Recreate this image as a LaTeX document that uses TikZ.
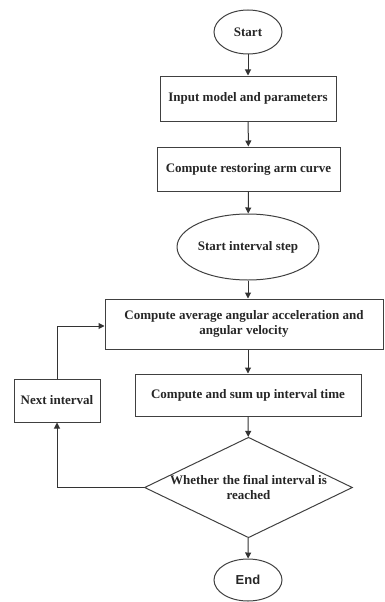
\documentclass[tikz,border=0pt]{standalone}
\usepackage{fontspec}
\setmainfont{Liberation Serif}
\newfontfamily\arialfont{Liberation Sans}
\usetikzlibrary{shapes.geometric,arrows.meta}
\begin{document}
\begin{tikzpicture}[x=1pt,y=-1pt,
  every node/.style={font=\bfseries\fontsize{13}{15.5}\selectfont, text=black!85, align=center, inner sep=0pt},
  boxnode/.style={draw=black!75, line width=1pt, rectangle},
  ovalnode/.style={draw=black!75, line width=1pt, ellipse},
  decnode/.style={draw=black!75, line width=1pt, diamond, aspect=2.07},
  flow/.style={draw=black!80, line width=1pt, -{Triangle[length=6pt,width=6pt]}}]
\useasboundingbox (0,0) rectangle (385,602);
\node[ovalnode, minimum width=68pt, minimum height=44pt] (start) at (248,32) {Start};
\node[boxnode, minimum width=176pt, minimum height=45pt] (input) at (248,98.5) {Input model and parameters};
\node[boxnode, minimum width=183pt, minimum height=44pt] (arm) at (248.5,169) {Compute restoring arm curve};
\node[ovalnode, minimum width=132pt, minimum height=66pt] (istep) at (248,247) {Start interval step};
\node[boxnode, minimum width=278pt, minimum height=50pt] (avg) at (244,324) {Compute average angular acceleration and\\angular velocity};
\node[boxnode, minimum width=226pt, minimum height=42pt] (sum) at (248,395) {Compute and sum up interval time};
\node[boxnode, minimum width=86pt, minimum height=43pt] (next) at (57,400.5) {Next interval};
\node[decnode, minimum width=207pt, minimum height=99pt] (dec) at (248.5,487.5) {Whether the final interval is\\reached};
\node[ovalnode, minimum width=68pt, minimum height=42pt, font=\arialfont\bfseries\fontsize{13}{15.5}\selectfont] (end) at (248,580) {End};
\draw[flow] (start) -- (input);
\draw[flow] (input) -- (arm);
\draw[flow] (arm) -- (istep);
\draw[flow] (istep) -- (avg.north -| istep.south);
\draw[flow] (avg.south -| sum.north) -- (sum);
\draw[flow] (sum) -- (dec);
\draw[flow] (dec) -- (end);
\draw[flow] (dec.west) -| (next.south);
\draw[flow] (next.north) |- (avg.west |- 0,326);
\end{tikzpicture}
\end{document}
